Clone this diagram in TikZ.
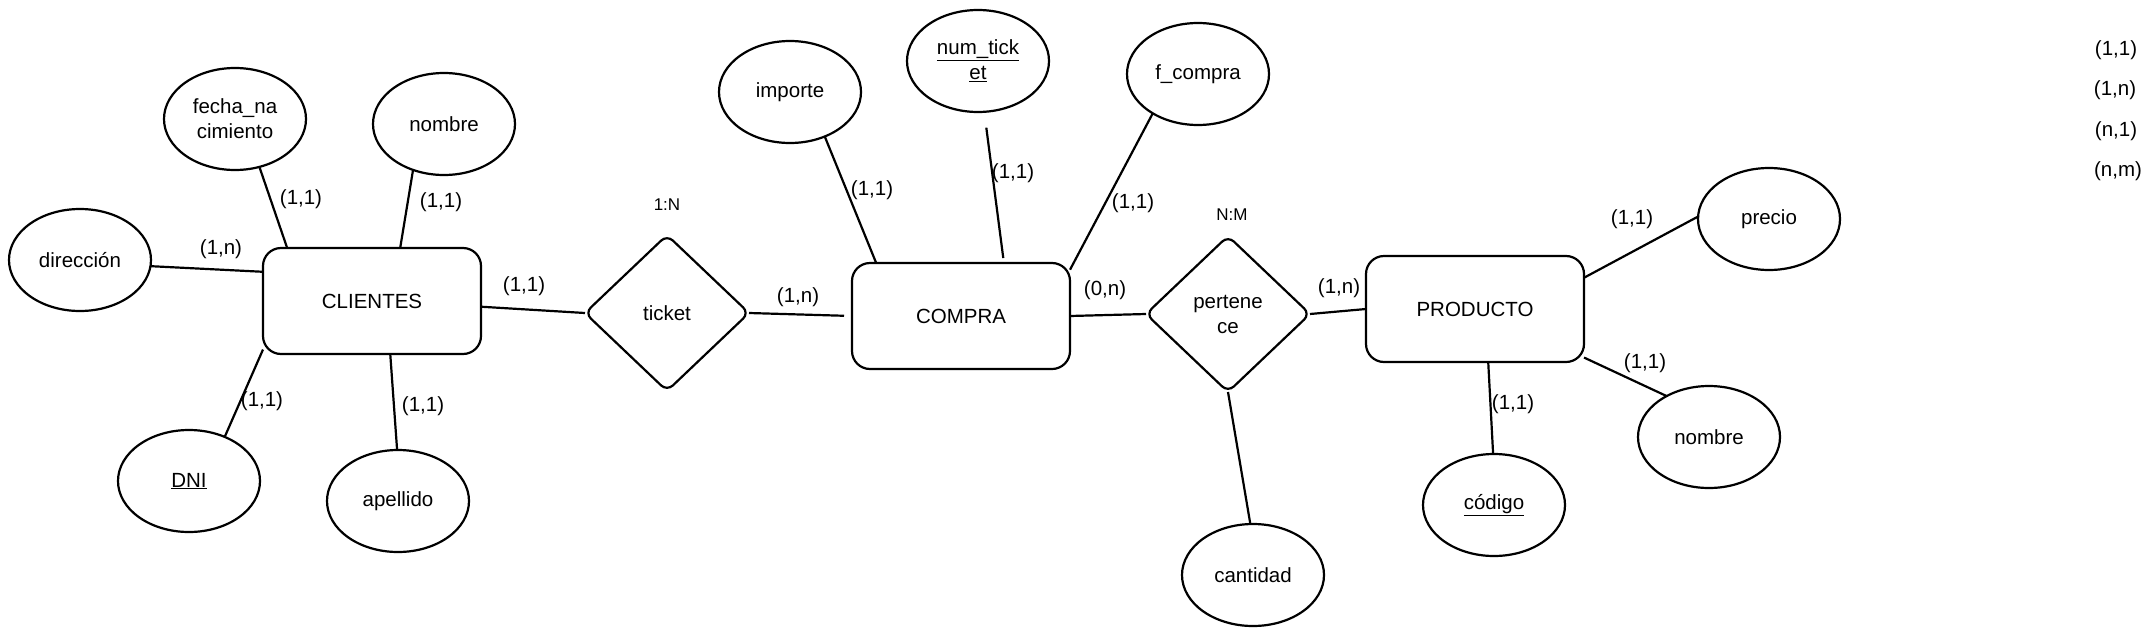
\documentclass[tikz,border=0pt]{standalone}
\usepackage{fontspec}
\setmainfont{Liberation Sans}
\usetikzlibrary{shapes.geometric}
\begin{document}
\begin{tikzpicture}[x=1pt,y=-1pt,
  every node/.style={font=\fontsize{20.5}{25}\selectfont, text=black, inner sep=0pt, outer sep=0pt},
  attr/.style={ellipse, draw, line width=2.2pt, minimum width=142pt, minimum height=102pt, align=center},
  ent/.style={rectangle, draw, rounded corners=18pt, line width=2.2pt, minimum width=218pt, minimum height=106pt},
  rel/.style={diamond, draw, rounded corners=8pt, line width=2.2pt, minimum width=164pt, minimum height=156pt, align=center},
  conn/.style={line width=2.2pt},
  small/.style={font=\fontsize{17}{20}\selectfont}]
\useasboundingbox (0,0) rectangle (2151,637);
% entities
\node[ent] (cl) at (372,301) {CLIENTES};
\node[ent] (co) at (961,316) {COMPRA};
\node[ent] (pr) at (1475,309) {PRODUCTO};
% relations
\node[rel] (tk) at (667,313) {ticket};
\node[rel] (pe) at (1228,314) {pertene\\ce};
% attributes
\node[attr] (fe) at (235,119) {fecha\_na\\cimiento};
\node[attr] (nb) at (444,124) {nombre};
\node[attr] (di) at (80,260) {dirección};
\node[attr] (dn) at (189,481) {\underline{DNI}};
\node[attr] (ap) at (398,501) {apellido};
\node[attr] (im) at (790,92) {importe};
\node[attr] (nt) at (978,61) {\underline{num\_tick}\\\underline{et}};
\node[attr] (fc) at (1198,74) {f\_compra};
\node[attr] (ca) at (1253,575) {cantidad};
\node[attr] (pc) at (1769,219) {precio};
\node[attr] (n2) at (1709,437) {nombre};
\node[attr] (cd) at (1494,505) {\underline{código}};
% connectors
\draw[conn] (fe.-63) -- (cl.148);
\draw[conn] (nb.-124) -- (cl.62);
\draw[conn] (di.-5) -- (cl.165);
\draw[conn] (dn.51) -- (cl.204);
\draw[conn] (ap.91) -- (cl.-71);
\draw[conn] (cl.-3) -- (tk.west);
\draw[conn, shorten >=8pt] (tk.east) -- (co.west);
\draw[conn] (im.-52) -- (co.148);
\draw[conn, shorten <=16pt, shorten >=5pt] (nt.-83) -- (co.51);
\draw[conn] (fc.221) -- (co.23);
\draw[conn] (co.east) -- (pe.west);
\draw[conn] (pe.south) -- (ca.93);
\draw[conn] (pe.east) -- (pr.west);
\draw[conn] (pr.16) -- (pc.178);
\draw[conn] (pr.-24) -- (n2.136);
\draw[conn] (pr.-76) -- (cd.91);
% cardinalities
\node (c1) at (301,199) {(1,1)};
\node (c2) at (441,202) {(1,1)};
\node (c3) at (221,249) {(1,n)};
\node (c4) at (524,286) {(1,1)};
\node (c5) at (262,401) {(1,1)};
\node (c6) at (423,406) {(1,1)};
\node[small] (r1) at (667,205) {1:N};
\node (c7) at (798,297) {(1,n)};
\node (c8) at (872,190) {(1,1)};
\node (c9) at (1013,173) {(1,1)};
\node (c10) at (1133,203) {(1,1)};
\node (c11) at (1105,290) {(0,n)};
\node[small] (r2) at (1232,215) {N:M};
\node (c12) at (1339,288) {(1,n)};
\node (c13) at (1632,219) {(1,1)};
\node (c14) at (1645,363) {(1,1)};
\node (c15) at (1513,404) {(1,1)};
% legend
\node (g1) at (2116,50) {(1,1)};
\node (g2) at (2115,90) {(1,n)};
\node (g3) at (2116,131) {(n,1)};
\node (g4) at (2118,171) {(n,m)};
\end{tikzpicture}
\end{document}
